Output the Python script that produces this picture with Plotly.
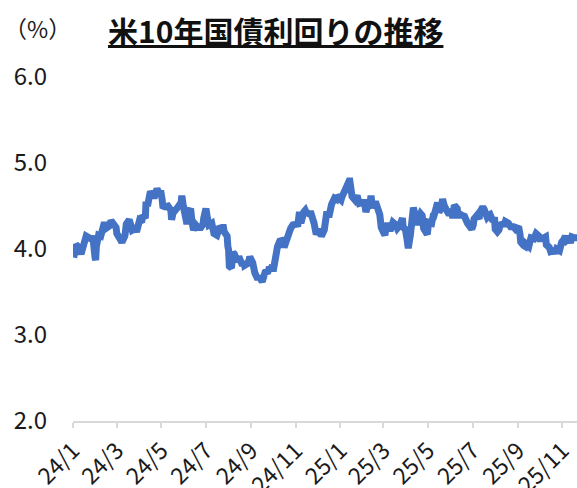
import plotly.graph_objects as go

dates = [
"2024-01-02","2024-01-04","2024-01-05","2024-01-09","2024-01-11","2024-01-12","2024-01-16","2024-01-18","2024-01-19","2024-01-23",
"2024-01-25","2024-01-26","2024-01-29","2024-01-31","2024-02-01","2024-02-02","2024-02-05","2024-02-08","2024-02-09","2024-02-13",
"2024-02-15","2024-02-20","2024-02-22","2024-02-26","2024-02-29","2024-03-01","2024-03-05","2024-03-07","2024-03-08","2024-03-12",
"2024-03-14","2024-03-18","2024-03-21","2024-03-22","2024-03-26","2024-03-28","2024-04-01","2024-04-04","2024-04-05","2024-04-09",
"2024-04-10","2024-04-12","2024-04-16","2024-04-19","2024-04-22","2024-04-25","2024-04-29","2024-04-30","2024-05-02","2024-05-03",
"2024-05-06","2024-05-08","2024-05-10","2024-05-14","2024-05-15","2024-05-17","2024-05-20","2024-05-23","2024-05-28","2024-05-29",
"2024-05-31","2024-06-03","2024-06-05","2024-06-07","2024-06-10","2024-06-12","2024-06-14","2024-06-17","2024-06-20","2024-06-24",
"2024-06-27","2024-06-28","2024-07-01","2024-07-03","2024-07-05","2024-07-09","2024-07-11","2024-07-12","2024-07-16","2024-07-18",
"2024-07-19","2024-07-23","2024-07-25","2024-07-26","2024-07-30","2024-07-31","2024-08-01","2024-08-02","2024-08-05","2024-08-07",
"2024-08-09","2024-08-13","2024-08-15","2024-08-16","2024-08-20","2024-08-22","2024-08-23","2024-08-27","2024-08-29","2024-08-30",
"2024-09-03","2024-09-05","2024-09-06","2024-09-10","2024-09-12","2024-09-16","2024-09-18","2024-09-20","2024-09-24","2024-09-26",
"2024-09-27","2024-09-30","2024-10-01","2024-10-03","2024-10-04","2024-10-07","2024-10-10","2024-10-14","2024-10-16","2024-10-18",
"2024-10-22","2024-10-23","2024-10-25","2024-10-28","2024-10-31","2024-11-04","2024-11-06","2024-11-08","2024-11-12","2024-11-14",
"2024-11-15","2024-11-19","2024-11-22","2024-11-26","2024-11-29","2024-12-03","2024-12-06","2024-12-10","2024-12-12","2024-12-13",
"2024-12-17","2024-12-18","2024-12-20","2024-12-24","2024-12-26","2024-12-27","2024-12-31",
"2025-01-02","2025-01-03","2025-01-07","2025-01-08","2025-01-10","2025-01-13","2025-01-14","2025-01-15","2025-01-17","2025-01-21",
"2025-01-22","2025-01-24","2025-01-27","2025-01-29","2025-01-31","2025-02-03","2025-02-05","2025-02-07","2025-02-10","2025-02-12",
"2025-02-14","2025-02-18","2025-02-20","2025-02-21","2025-02-24","2025-02-26","2025-02-28","2025-03-03","2025-03-04","2025-03-06",
"2025-03-07","2025-03-10","2025-03-12","2025-03-14","2025-03-18","2025-03-20","2025-03-21","2025-03-25","2025-03-27","2025-03-28",
"2025-03-31","2025-04-02","2025-04-03","2025-04-04","2025-04-07","2025-04-08","2025-04-09","2025-04-11","2025-04-14","2025-04-16",
"2025-04-17","2025-04-21","2025-04-23","2025-04-25","2025-04-29","2025-04-30","2025-05-02","2025-05-06","2025-05-08","2025-05-09",
"2025-05-12","2025-05-14","2025-05-16","2025-05-19","2025-05-21","2025-05-22","2025-05-23","2025-05-27","2025-05-30","2025-06-02",
"2025-06-04","2025-06-06","2025-06-10","2025-06-12","2025-06-13","2025-06-17","2025-06-20","2025-06-24","2025-06-26","2025-06-27",
"2025-06-30","2025-07-02","2025-07-03","2025-07-07","2025-07-10","2025-07-11","2025-07-15","2025-07-17","2025-07-21","2025-07-23",
"2025-07-25","2025-07-29","2025-07-31","2025-08-01","2025-08-04","2025-08-06","2025-08-08","2025-08-12","2025-08-14","2025-08-15",
"2025-08-19","2025-08-22","2025-08-26","2025-08-29","2025-09-02","2025-09-04","2025-09-05","2025-09-09","2025-09-11","2025-09-12",
"2025-09-16","2025-09-18","2025-09-19","2025-09-23","2025-09-25","2025-09-26","2025-09-30","2025-10-02","2025-10-03","2025-10-07",
"2025-10-09","2025-10-10","2025-10-14","2025-10-16","2025-10-20","2025-10-22","2025-10-24","2025-10-28","2025-10-30","2025-10-31",
"2025-11-03","2025-11-05","2025-11-07","2025-11-10","2025-11-12","2025-11-14","2025-11-17","2025-11-19","2025-11-20","2025-11-21",
]

yields = [
3.90,3.99,4.05,4.02,3.97,3.94,4.06,4.14,4.15,4.13,
4.12,4.15,4.08,3.91,3.87,4.03,4.16,4.15,4.18,4.31,
4.24,4.27,4.33,4.28,4.25,4.18,4.13,4.08,4.08,4.15,
4.29,4.34,4.27,4.22,4.24,4.20,4.33,4.31,4.39,4.36,
4.55,4.50,4.67,4.62,4.62,4.70,4.63,4.68,4.58,4.50,
4.49,4.49,4.50,4.45,4.34,4.42,4.44,4.48,4.54,4.62,
4.50,4.40,4.29,4.43,4.47,4.31,4.22,4.28,4.25,4.25,
4.29,4.36,4.47,4.36,4.28,4.30,4.21,4.18,4.16,4.20,
4.24,4.25,4.25,4.20,4.15,4.03,3.99,3.80,3.78,3.96,
3.94,3.85,3.91,3.89,3.81,3.86,3.81,3.83,3.87,3.91,
3.84,3.73,3.72,3.65,3.68,3.62,3.70,3.73,3.74,3.79,
3.75,3.81,3.74,3.85,3.98,4.03,4.09,4.10,4.02,4.08,
4.20,4.24,4.24,4.28,4.28,4.29,4.43,4.30,4.43,4.45,
4.43,4.41,4.41,4.30,4.17,4.23,4.15,4.22,4.33,4.40,
4.40,4.50,4.52,4.59,4.58,4.62,4.57,
4.57,4.60,4.68,4.69,4.77,4.79,4.79,4.66,4.61,4.57,
4.61,4.62,4.53,4.55,4.54,4.54,4.43,4.49,4.50,4.62,
4.48,4.55,4.50,4.43,4.40,4.25,4.21,4.16,4.22,4.28,
4.30,4.21,4.31,4.31,4.28,4.24,4.25,4.31,4.36,4.25,
4.23,4.13,4.06,4.01,4.17,4.26,4.34,4.48,4.38,4.28,
4.32,4.41,4.39,4.24,4.19,4.17,4.31,4.30,4.38,4.38,
4.47,4.54,4.43,4.47,4.58,4.54,4.51,4.44,4.40,4.46,
4.36,4.51,4.47,4.36,4.41,4.39,4.38,4.30,4.26,4.28,
4.23,4.28,4.35,4.39,4.35,4.43,4.49,4.46,4.37,4.39,
4.40,4.32,4.37,4.23,4.20,4.22,4.28,4.29,4.29,4.32,
4.30,4.26,4.26,4.23,4.26,4.17,4.08,4.04,4.03,4.06,
4.03,4.10,4.13,4.12,4.17,4.18,4.15,4.09,4.12,4.13,
4.14,4.05,4.02,3.97,3.98,3.95,4.00,3.98,4.08,4.08,
4.11,4.15,4.10,4.12,4.07,4.14,4.13,4.13,4.10,4.14,
]

title_text = "米10年国債利回りの推移"
unit_text = "（%）"
y_ticks = [2.0, 3.0, 4.0, 5.0, 6.0]
x_range = ["2024-01-01", "2025-11-21"]

fig = go.Figure()
fig.add_trace(go.Scatter(
    x=dates, y=yields, mode="lines",
    line=dict(color="#4472C4", width=7),
    hoverinfo="skip",
))

font_family = "Noto Sans CJK JP, Noto Sans, sans-serif"
L, T, B = 73, 77, 67
W = 577 - L

fig.update_layout(
    width=577, height=488,
    margin=dict(l=L, r=0, t=T, b=B, autoexpand=False),
    paper_bgcolor="white", plot_bgcolor="white",
    showlegend=False,
    font=dict(family=font_family, color="#1a1a1a"),
    annotations=[
        dict(text="<b><u>" + title_text + "</u></b>", xref="paper", yref="paper",
             x=(106 - L) / W, y=1, xanchor="left", yanchor="middle",
             yshift=47, showarrow=False, font=dict(size=30, color="#111111", family=font_family)),
        dict(text=unit_text, xref="paper", yref="paper",
             x=(2 - L) / W, y=1, xanchor="left", yanchor="middle",
             yshift=49, showarrow=False, font=dict(size=23, color="#1a1a1a", family=font_family)),
    ],
)

fig.update_yaxes(
    range=[2, 6], tickvals=y_ticks, tickformat=".1f",
    showgrid=False, zeroline=False, showline=False, ticks="",
    tickfont=dict(size=24, color="#1a1a1a"),
    ticklabelstandoff=25, automargin=False,
)
fig.update_xaxes(
    type="date", range=x_range, tick0="2024-01-01", dtick="M2",
    tickformat="%y/%-m", tickangle=-45,
    showgrid=False, zeroline=False,
    showline=True, linecolor="#D9D9D9", linewidth=2,
    ticks="outside", ticklen=5, tickcolor="#D9D9D9", tickwidth=2,
    tickfont=dict(size=23, color="#1a1a1a"),
    automargin=False,
)

fig.write_html(
    "out.html",
    config={"displayModeBar": False},
    post_script="document.body.style.margin='0';document.body.style.overflow='hidden';",
)
